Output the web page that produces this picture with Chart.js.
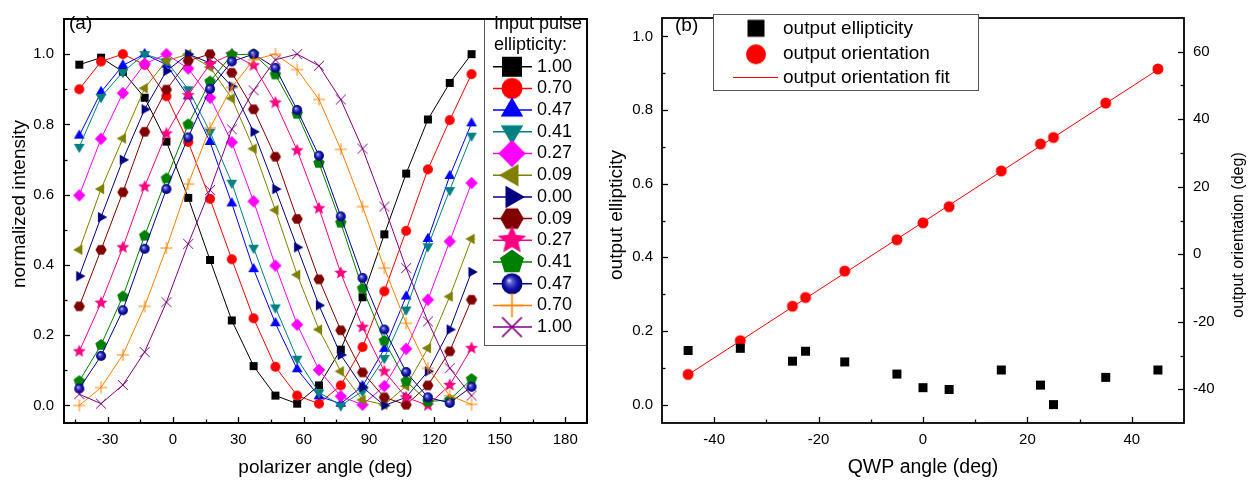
<!DOCTYPE html>
<html>
<head>
<meta charset="utf-8">
<script src="https://cdn.jsdelivr.net/npm/chart.js@4.4.1/dist/chart.umd.min.js"></script>
<style>
  html, body { margin: 0; padding: 0; background: #fff; }
  #wrap { position: relative; width: 1252px; height: 486px; overflow: hidden; background: #fff; }
  #ca { position: absolute; left: 0; top: 0; }
  #cb { position: absolute; left: 600px; top: 0; }
</style>
</head>
<body>
<div id="wrap">
  <canvas id="ca" width="600" height="486"></canvas>
  <canvas id="cb" width="652" height="486"></canvas>
</div>
<script>
// ---------- panel (a): transmitted intensity vs polarizer angle ----------
const polarizerAngle = [-43, -33, -23, -13, -3, 7, 17, 27, 37, 47, 57, 67, 77, 87, 97, 107, 117, 127, 137];

const ellipticityLabels = ['1.00', '0.70', '0.47', '0.41', '0.27', '0.09', '0.00', '0.09', '0.27', '0.41', '0.47', '0.70', '1.00'];

const intensity100a = [0.97, 0.99, 0.95, 0.876, 0.751, 0.591, 0.414, 0.242, 0.112, 0.028, 0.005, 0.057, 0.159, 0.308, 0.487, 0.66, 0.814, 0.918, 1.0];
const intensity070a = [0.90, 0.979, 1.0, 0.97, 0.88, 0.75, 0.588, 0.416, 0.248, 0.11, 0.028, 0.005, 0.057, 0.166, 0.325, 0.497, 0.672, 0.812, 0.943];
const intensity047a = [0.768, 0.892, 0.968, 1.0, 0.97, 0.88, 0.75, 0.575, 0.388, 0.234, 0.103, 0.026, 0.005, 0.055, 0.161, 0.31, 0.474, 0.653, 0.803];
const intensity041a = [0.736, 0.878, 0.949, 1.0, 0.98, 0.90, 0.779, 0.634, 0.449, 0.279, 0.133, 0.037, 0.0, 0.04, 0.135, 0.273, 0.453, 0.613, 0.768];
const intensity027a = [0.598, 0.759, 0.889, 0.972, 1.0, 0.959, 0.876, 0.749, 0.581, 0.398, 0.23, 0.101, 0.026, 0.002, 0.055, 0.161, 0.301, 0.467, 0.633];
const intensity009a = [0.443, 0.616, 0.76, 0.903, 0.981, 1.0, 0.963, 0.874, 0.731, 0.556, 0.372, 0.216, 0.097, 0.016, 0.002, 0.055, 0.163, 0.31, 0.474];
const intensity000  = [0.368, 0.536, 0.699, 0.843, 0.952, 1.0, 0.975, 0.908, 0.779, 0.616, 0.45, 0.285, 0.144, 0.052, 0.0, 0.023, 0.097, 0.216, 0.38];
const intensity009b = [0.282, 0.443, 0.607, 0.779, 0.899, 0.981, 1.0, 0.947, 0.843, 0.708, 0.531, 0.359, 0.214, 0.094, 0.023, 0.002, 0.057, 0.154, 0.301];
const intensity027b = [0.154, 0.292, 0.45, 0.623, 0.774, 0.883, 0.972, 1.0, 0.968, 0.862, 0.726, 0.561, 0.377, 0.223, 0.097, 0.023, 0.0, 0.058, 0.163];
const intensity041b = [0.069, 0.172, 0.31, 0.483, 0.646, 0.8, 0.922, 0.998, 1.0, 0.942, 0.83, 0.69, 0.52, 0.333, 0.184, 0.069, 0.011, 0.016, 0.075];
const intensity047b = [0.048, 0.141, 0.271, 0.446, 0.616, 0.763, 0.901, 0.979, 1.0, 0.961, 0.841, 0.711, 0.538, 0.363, 0.216, 0.095, 0.023, 0.007, 0.053];
const intensity070b = [0.0, 0.051, 0.144, 0.282, 0.448, 0.63, 0.79, 0.905, 0.984, 1.0, 0.956, 0.871, 0.729, 0.566, 0.391, 0.234, 0.106, 0.028, 0.003];
const intensity100b = [0.032, 0.005, 0.058, 0.152, 0.294, 0.46, 0.613, 0.786, 0.897, 0.984, 1.0, 0.967, 0.871, 0.731, 0.566, 0.391, 0.239, 0.106, 0.028];

const xTicksA = [-30, 0, 30, 60, 90, 120, 150, 180];
const xMinorA = [-45, -15, 15, 45, 75, 105, 135, 165];
const yTicksA = [0, 0.2, 0.4, 0.6, 0.8, 1.0];
const yMinorA = [0.1, 0.3, 0.5, 0.7, 0.9];

// ---------- panel (b): output polarization vs QWP angle ----------
const qwpAngle = [-45, -35, -25, -22.5, -15, -5, 0, 5, 15, 22.5, 25, 35, 45];
const outEllipticity = [0.147, 0.153, 0.118, 0.145, 0.116, 0.083, 0.046, 0.041, 0.094, 0.053, 0.0, 0.074, 0.094];
const outOrientation = [-35.6, -25.6, -15.4, -12.8, -5.0, 4.3, 9.3, 14.1, 24.7, 32.7, 34.6, 44.8, 54.9];
const fitAngle = [-45, 45];
const fitOrientation = [-35.7, 54.7];

const xTicksB = [-40, -20, 0, 20, 40];
const xMinorB = [-30, -10, 10, 30];
const yTicksB = [0, 0.2, 0.4, 0.6, 0.8, 1.0];
const yMinorB = [0.1, 0.3, 0.5, 0.7, 0.9];
const y2TicksB = [-40, -20, 0, 20, 40, 60];
const y2MinorB = [-30, -10, 10, 30, 50];

const legendNamesB = ['output ellipticity', 'output orientation', 'output orientation fit'];

// ---------- drawing helpers ----------
const FONT = "'Liberation Sans', Arial, Helvetica, sans-serif";

// Builds a small canvas holding one marker glyph; used as a Chart.js pointStyle.
function makeMarker(shape, color, s) {
  const d = Math.ceil(s * 1.4) + 2;
  const c = document.createElement('canvas');
  c.width = d; c.height = d;
  const g = c.getContext('2d');
  g.translate(d / 2, d / 2);
  g.fillStyle = color;
  g.strokeStyle = color;
  const poly = (n, R, rot) => {
    g.beginPath();
    for (let i = 0; i < n; i++) {
      const a = rot + i * 2 * Math.PI / n;
      g.lineTo(R * Math.cos(a), R * Math.sin(a));
    }
    g.closePath();
    g.fill();
  };
  switch (shape) {
    case 'square': g.fillRect(-s / 2, -s / 2, s, s); break;
    case 'circle': g.beginPath(); g.arc(0, 0, s / 2, 0, 2 * Math.PI); g.fill(); break;
    case 'up': poly(3, s * 0.62, -Math.PI / 2); break;
    case 'down': poly(3, s * 0.62, Math.PI / 2); break;
    case 'left': poly(3, s * 0.62, Math.PI); break;
    case 'right': poly(3, s * 0.62, 0); break;
    case 'diamond': poly(4, s * 0.62, 0); break;
    case 'hexagon': poly(6, s * 0.56, 0); break;
    case 'pentagon': poly(5, s * 0.6, -Math.PI / 2); break;
    case 'star': {
      const R = s * 0.68, r = R * 0.45;
      g.beginPath();
      for (let i = 0; i < 10; i++) {
        const a = -Math.PI / 2 + i * Math.PI / 5;
        const rr = i % 2 ? r : R;
        g.lineTo(rr * Math.cos(a), rr * Math.sin(a));
      }
      g.closePath(); g.fill();
      break;
    }
    case 'sphere': {
      const grd = g.createRadialGradient(-s * 0.15, -s * 0.17, 0, 0, 0, s / 2);
      grd.addColorStop(0, '#dcdcff');
      grd.addColorStop(0.28, '#5a5ad0');
      grd.addColorStop(0.65, '#1212a8');
      grd.addColorStop(1, '#000070');
      g.fillStyle = grd;
      g.beginPath(); g.arc(0, 0, s / 2, 0, 2 * Math.PI); g.fill();
      break;
    }
    case 'plus': {
      const a = s * 0.55;
      g.lineWidth = Math.max(1, s / 14);
      g.beginPath(); g.moveTo(-a, 0); g.lineTo(a, 0); g.moveTo(0, -a); g.lineTo(0, a); g.stroke();
      break;
    }
    case 'cross': {
      const a = s * 0.45;
      g.lineWidth = Math.max(1, s / 14);
      g.beginPath(); g.moveTo(-a, -a); g.lineTo(a, a); g.moveTo(a, -a); g.lineTo(-a, a); g.stroke();
      break;
    }
  }
  return c;
}

// Plot frame plus inward major/minor tick marks.
function drawFrame(chart, tickSets) {
  const { ctx, chartArea: a } = chart;
  ctx.save();
  ctx.strokeStyle = '#000';
  ctx.lineWidth = 1.3;
  tickSets.forEach(t => {
    const sc = chart.scales[t.id];
    const tick = (v, len) => {
      const p = Math.round(sc.getPixelForValue(v)) + 0.5;
      ctx.beginPath();
      if (t.side === 'bottom') { ctx.moveTo(p, a.bottom); ctx.lineTo(p, a.bottom - len); }
      else if (t.side === 'left') { ctx.moveTo(a.left, p); ctx.lineTo(a.left + len, p); }
      else { ctx.moveTo(a.right, p); ctx.lineTo(a.right - len, p); }
      ctx.stroke();
    };
    t.major.forEach(v => tick(v, 6));
    t.minor.forEach(v => tick(v, 3.5));
  });
  ctx.lineWidth = 1.8;
  ctx.strokeRect(a.left, a.top, a.right - a.left, a.bottom - a.top);
  ctx.restore();
}

function text(ctx, str, x, y, size, align, rot) {
  ctx.save();
  ctx.font = size + 'px ' + FONT;
  ctx.fillStyle = '#000';
  ctx.textAlign = align || 'left';
  ctx.textBaseline = 'middle';
  ctx.translate(x, y);
  if (rot) ctx.rotate(rot);
  ctx.fillText(str, 0, 0);
  ctx.restore();
}

const tickFont = { family: FONT, size: 15 };

// ---------- chart (a) ----------
const seriesA = [
  { data: intensity100a, color: '#000000', shape: 'square',   s: 8,  ls: 20 },
  { data: intensity070a, color: '#ff0000', shape: 'circle',   s: 10, ls: 21 },
  { data: intensity047a, color: '#0000ff', shape: 'up',       s: 10, ls: 21 },
  { data: intensity041a, color: '#008080', shape: 'down',     s: 10, ls: 21 },
  { data: intensity027a, color: '#ff00ff', shape: 'diamond',  s: 10, ls: 22 },
  { data: intensity009a, color: '#808000', shape: 'left',     s: 10, ls: 21 },
  { data: intensity000,  color: '#000080', shape: 'right',    s: 10, ls: 21 },
  { data: intensity009b, color: '#800000', shape: 'hexagon',  s: 10, ls: 21 },
  { data: intensity027b, color: '#ff0080', shape: 'star',     s: 10, ls: 22 },
  { data: intensity041b, color: '#008000', shape: 'pentagon', s: 10, ls: 21 },
  { data: intensity047b, color: '#00008b', shape: 'sphere',   s: 10, ls: 21 },
  { data: intensity070b, color: '#ff8000', shape: 'plus',     s: 11, ls: 22 },
  { data: intensity100b, color: '#800080', shape: 'cross',    s: 11, ls: 22 }
];

const panelAOverlay = {
  id: 'panelAOverlay',
  afterDraw(chart) {
    const ctx = chart.ctx;
    const a = chart.chartArea;
    drawFrame(chart, [
      { id: 'x', side: 'bottom', major: xTicksA, minor: xMinorA },
      { id: 'y', side: 'left', major: yTicksA, minor: yMinorA }
    ]);
    // legend box
    const lx = 484, ly = a.top, lr = a.right, lb = 346;
    ctx.save();
    ctx.fillStyle = '#fff';
    ctx.fillRect(lx, ly, lr - lx, lb - ly);
    ctx.strokeStyle = '#555';
    ctx.lineWidth = 1;
    ctx.strokeRect(lx + 0.5, ly + 0.5, lr - lx - 1, lb - ly - 1);
    ctx.restore();
    text(ctx, 'Input pulse', 494, 24, 18);
    text(ctx, 'ellipticity:', 494, 45, 18);
    seriesA.forEach((s, i) => {
      const y = 66.7 + 21.7 * i;
      ctx.save();
      ctx.strokeStyle = s.color;
      ctx.lineWidth = 1.5;
      ctx.beginPath(); ctx.moveTo(493, y); ctx.lineTo(532, y); ctx.stroke();
      const m = makeMarker(s.shape, s.color, s.ls);
      ctx.drawImage(m, 512 - m.width / 2, y - m.height / 2);
      ctx.restore();
      text(ctx, ellipticityLabels[i], 537, y, 18);
    });
    ctx.save();
    ctx.strokeStyle = '#000';
    ctx.lineWidth = 1.8;
    ctx.strokeRect(a.left, a.top, a.right - a.left, a.bottom - a.top);
    ctx.restore();
    // panel tag and axis titles
    text(ctx, '(a)', 69, 24, 19);
    text(ctx, 'polarizer angle (deg)', (a.left + a.right) / 2, 468, 19, 'center');
    text(ctx, 'normalized intensity', 20, 204, 19, 'center', -Math.PI / 2);
  }
};

new Chart(document.getElementById('ca'), {
  type: 'line',
  data: {
    datasets: seriesA.map((s, i) => ({
      label: ellipticityLabels[i],
      data: polarizerAngle.map((x, k) => ({ x: x, y: s.data[k] })),
      borderColor: s.color,
      backgroundColor: s.color,
      borderWidth: 1,
      pointStyle: makeMarker(s.shape, s.color, s.s),
      pointRadius: 5,
      pointHoverRadius: 5,
      tension: 0,
      fill: false,
      order: seriesA.length - i
    }))
  },
  options: {
    responsive: false,
    animation: false,
    events: [],
    layout: { padding: { top: 6, right: 13, left: 0, bottom: 0 } },
    plugins: { legend: { display: false }, tooltip: { enabled: false } },
    scales: {
      x: {
        type: 'linear', min: -50, max: 190,
        grid: { display: false, drawTicks: false },
        border: { display: false },
        afterBuildTicks: sc => { sc.ticks = xTicksA.map(v => ({ value: v })); },
        afterFit: sc => { sc.height = 63; },
        ticks: { font: tickFont, color: '#000', padding: 8, maxRotation: 0, callback: v => String(v) }
      },
      y: {
        type: 'linear', min: -0.05, max: 1.1,
        grid: { display: false, drawTicks: false },
        border: { display: false },
        afterBuildTicks: sc => { sc.ticks = yTicksA.map(v => ({ value: v })); },
        afterFit: sc => { sc.width = 64; },
        ticks: { font: tickFont, color: '#000', padding: 10, callback: v => Number(v).toFixed(1) }
      }
    }
  },
  plugins: [panelAOverlay]
});

// ---------- chart (b) ----------
const squareB = makeMarker('square', '#000000', 9);
const circleB = makeMarker('circle', '#ff0000', 11);

const panelBOverlay = {
  id: 'panelBOverlay',
  afterDraw(chart) {
    const ctx = chart.ctx;
    const a = chart.chartArea;
    drawFrame(chart, [
      { id: 'x', side: 'bottom', major: xTicksB, minor: xMinorB },
      { id: 'y', side: 'left', major: yTicksB, minor: yMinorB },
      { id: 'y2', side: 'right', major: y2TicksB, minor: y2MinorB }
    ]);
    // legend
    const bx = 113.5, by = 14.5, bw = 265, bh = 76;
    ctx.save();
    ctx.fillStyle = '#fff';
    ctx.fillRect(bx, by, bw, bh);
    ctx.strokeStyle = '#555';
    ctx.lineWidth = 1;
    ctx.strokeRect(bx, by, bw, bh);
    const sq = makeMarker('square', '#000000', 17);
    ctx.drawImage(sq, 156 - sq.width / 2, 28.3 - sq.height / 2);
    const ci = makeMarker('circle', '#ff0000', 20);
    ctx.drawImage(ci, 156 - ci.width / 2, 54.3 - ci.height / 2);
    ctx.strokeStyle = '#ff0000';
    ctx.lineWidth = 1;
    ctx.beginPath(); ctx.moveTo(133, 77.5); ctx.lineTo(178, 77.5); ctx.stroke();
    ctx.restore();
    text(ctx, legendNamesB[0], 183, 28.5, 19);
    text(ctx, legendNamesB[1], 183, 54, 19);
    text(ctx, legendNamesB[2], 183, 77.5, 19);
    // panel tag and axis titles
    text(ctx, '(b)', 75, 25.5, 19);
    text(ctx, 'QWP angle (deg)', (a.left + a.right) / 2, 468, 19.5, 'center');
    text(ctx, 'output ellipticity', 17, 215, 19, 'center', -Math.PI / 2);
    text(ctx, 'output orientation (deg)', 639, 235, 16, 'center', -Math.PI / 2);
  }
};

new Chart(document.getElementById('cb'), {
  type: 'line',
  data: {
    datasets: [
      {
        label: legendNamesB[0],
        data: qwpAngle.map((x, k) => ({ x: x, y: outEllipticity[k] })),
        yAxisID: 'y',
        showLine: false,
        pointStyle: squareB,
        pointRadius: 5,
        order: 1
      },
      {
        label: legendNamesB[1],
        data: qwpAngle.map((x, k) => ({ x: x, y: outOrientation[k] })),
        yAxisID: 'y2',
        showLine: false,
        pointStyle: circleB,
        pointRadius: 5,
        order: 2
      },
      {
        label: legendNamesB[2],
        data: fitAngle.map((x, k) => ({ x: x, y: fitOrientation[k] })),
        yAxisID: 'y2',
        borderColor: '#ff0000',
        borderWidth: 1,
        pointRadius: 0,
        tension: 0,
        fill: false,
        order: 3
      }
    ]
  },
  options: {
    responsive: false,
    animation: false,
    events: [],
    layout: { padding: { top: 6, right: 0, left: 0, bottom: 0 } },
    plugins: { legend: { display: false }, tooltip: { enabled: false } },
    scales: {
      x: {
        type: 'linear', min: -50, max: 50,
        grid: { display: false, drawTicks: false },
        border: { display: false },
        afterBuildTicks: sc => { sc.ticks = xTicksB.map(v => ({ value: v })); },
        afterFit: sc => { sc.height = 63; },
        ticks: { font: tickFont, color: '#000', padding: 8, maxRotation: 0, callback: v => String(v) }
      },
      y: {
        type: 'linear', position: 'left', min: -0.05, max: 1.05,
        grid: { display: false, drawTicks: false },
        border: { display: false },
        afterBuildTicks: sc => { sc.ticks = yTicksB.map(v => ({ value: v })); },
        afterFit: sc => { sc.width = 62; },
        ticks: { font: tickFont, color: '#000', padding: 9, callback: v => Number(v).toFixed(1) }
      },
      y2: {
        type: 'linear', position: 'right', min: -50, max: 70,
        grid: { display: false, drawTicks: false },
        border: { display: false },
        afterBuildTicks: sc => { sc.ticks = y2TicksB.map(v => ({ value: v })); },
        afterFit: sc => { sc.width = 68; },
        ticks: { font: tickFont, color: '#000', padding: 9, callback: v => String(v) }
      }
    }
  },
  plugins: [panelBOverlay]
});
</script>
</body>
</html>
